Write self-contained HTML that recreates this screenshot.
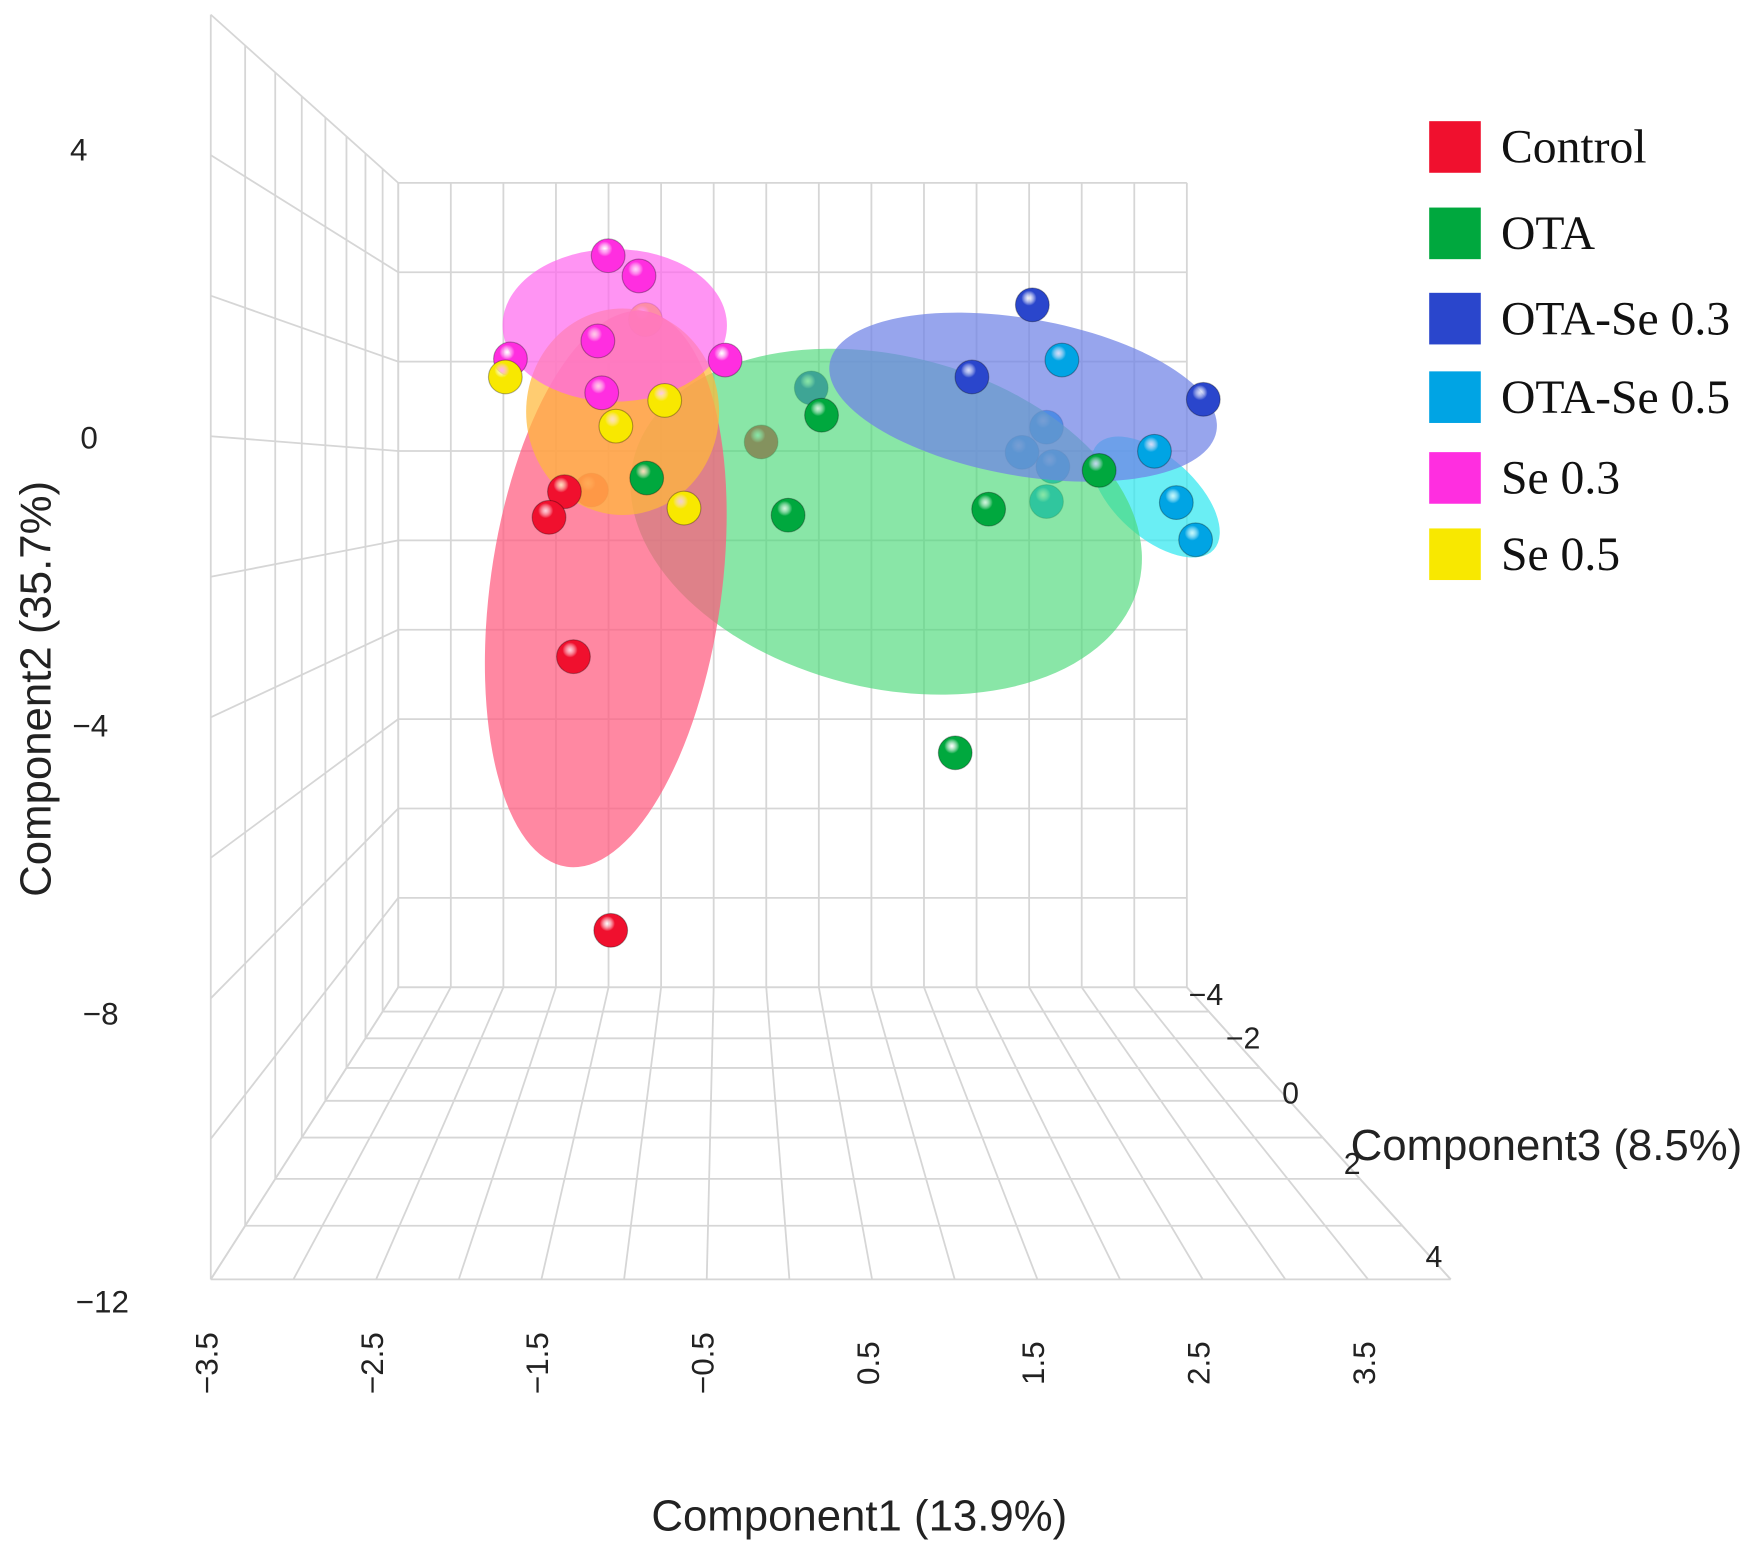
<!DOCTYPE html>
<html><head><meta charset="utf-8">
<style>
html,body{margin:0;padding:0;background:#fff;overflow:hidden;}
svg{display:block;}
text{font-family:"Liberation Sans",Arial,sans-serif;fill:#222;}
.leg{font-family:"Liberation Serif",serif;font-size:42.5px;fill:#111;}
</style></head>
<body>
<svg id="chart" width="1759" height="1555" viewBox="0 0 1568 1386" preserveAspectRatio="none" xmlns="http://www.w3.org/2000/svg">
<defs id="defs"></defs>
<g id="grid"></g>
<g id="behind"></g>
<g id="ells"></g>
<g id="front"></g>
<g id="ticks"></g>
<text x="766" y="1364" text-anchor="middle" font-size="39">Component1 (13.9%)</text>
<text transform="translate(45,614) rotate(-90)" text-anchor="middle" font-size="39">Component2 (35.7%)</text>
<text x="1204" y="1034" font-size="39">Component3 (8.5%)</text>
<g id="legend"></g>
</svg>
<script>
const groups = ["Control","OTA","OTA-Se 0.3","OTA-Se 0.5","Se 0.3","Se 0.5"];
const colors = ["#f0102e","#00a83e","#2a46cc","#00a4e4","#ff2ee0","#f8e800"];
const ctrlX = [-1.64,-1.76,-1.43,-1.57,-1.28,-0.11];
const ctrlY = [-0.85,-1.32,-0.82,-3.87,-8.88,0.06];
const ctrlBehind = [0,0,1,0,0,1];
const otaX = [-1.00,0.36,0.10,1.66,2.52,1.40];
const otaY = [-0.60,0.55,-1.28,-1.17,-0.46,-5.63];
const otaBehind = [0,0,0,0,0,0];
const se3X = [2.00,1.53,3.33,0.28];
const se3Y = [2.57,1.25,0.84,1.05];
const se3Behind = [0,0,0,1];
const se5X = [2.23,2.95,3.12,3.27,2.11,1.92,2.16,2.11];
const se5Y = [1.56,-0.11,-1.05,-1.73,0.33,-0.13,-0.39,-1.03];
const se5Behind = [0,0,0,0,1,1,1,1];
const s3X = [-1.30,-1.06,-1.38,-2.06,-1.35,-0.39];
const s3Y = [3.47,3.10,1.91,1.58,0.96,1.56];
const s3Behind = [0,0,0,0,0,0];
const s5X = [-2.10,-0.86,-1.24,-0.71,-1.01];
const s5Y = [1.25,0.82,0.35,-1.15,2.30];
const s5Behind = [0,0,0,0,1];
const gx=[ctrlX,otaX,se3X,se5X,s3X,s5X], gy=[ctrlY,otaY,se3Y,se5Y,s3Y,s5Y], gb=[ctrlBehind,otaBehind,se3Behind,se5Behind,s3Behind,s5Behind];
const xTicks=["-3.5","-2.5","-1.5","-0.5","0.5","1.5","2.5","3.5"];
const yTicks=["4","0","-4","-8","-12"];
const zTicks=["-4","-2","0","2","4"];

const NS="http://www.w3.org/2000/svg";
function sc(z){return 1/(0.818-0.0455*z);}
function P(x,y,z){const s=sc(z);const xb=355+(x+3.5)*93.73, yb=163+(6-y)*39.83;return [647+s*(xb-647),425+s*(yb-425),s];}
function el(tag,attrs,parent){const e=document.createElementNS(NS,tag);for(const k in attrs)e.setAttribute(k,attrs[k]);parent.appendChild(e);return e;}
const grid=document.getElementById('grid');
function line(a,b,name){const l=el('line',{x1:a[0],y1:a[1],x2:b[0],y2:b[1],stroke:'#d6d6d6','stroke-width':1.6},grid);

}
for(let x=-3.5;x<=4.001;x+=0.5){line(P(x,-12,-4),P(x,6,-4),'back-gridline-x');line(P(x,-12,-4),P(x,-12,4),'floor-gridline-x');}
for(let y=-12;y<=6;y+=2){line(P(-3.5,y,-4),P(4,y,-4),'back-gridline-y');line(P(-3.5,y,-4),P(-3.5,y,4),'side-gridline-y');}
for(let z=-4;z<=4;z+=1){line(P(-3.5,-12,z),P(-3.5,6,z),'side-gridline-z');line(P(-3.5,-12,z),P(4,-12,z),'floor-gridline-z');}
line(P(4,-12,-4),P(4,-12,4),'floor-edge-right');

const defs=document.getElementById('defs');
colors.forEach((c,i)=>{const g=el('radialGradient',{id:'g'+i,cx:'0.4',cy:'0.3',r:'0.75'},defs);
el('stop',{offset:'0','stop-color':'#ffffff','stop-opacity':'0.6'},g);
el('stop',{offset:'0.3','stop-color':c},g);el('stop',{offset:'1','stop-color':c},g);});

function drawPts(layer,flag){const L=document.getElementById(layer);
gx.forEach((xs,gi)=>{xs.forEach((x,j)=>{if(gb[gi][j]!==flag)return;const p=P(x,gy[gi][j],0);
const c=el('circle',{cx:p[0],cy:p[1],r:12.3*p[2],fill:'url(#g'+gi+')',stroke:'rgba(0,0,0,0.3)','stroke-width':1},L);

});});}
drawPts('behind',1);

const ells=document.getElementById('ells');
const ellData=[["ellipse-ota-se-0-5",1030,443,70,36,42,"#30e8f0",0.72],["ellipse-ota",790,465,232,148,14,"#4ad878",0.65],
["ellipse-control",540,525,103,250,8,"#ff5a7e",0.72],["ellipse-se-0-5",555,367,86,92,0,"#ffb83a",0.72],
["ellipse-se-0-3",548,290,100,68,0,"#ff66ee",0.7],["ellipse-ota-se-0-3",912,354,175,70,10,"#6f82e6",0.72]];
ellData.forEach(d=>{const e=el('ellipse',{cx:d[1],cy:d[2],rx:d[3],ry:d[4],transform:`rotate(${d[5]} ${d[1]} ${d[2]})`,fill:d[6],'fill-opacity':d[7]},ells);

});
drawPts('front',0);

const T=document.getElementById('ticks');
xTicks.forEach(t=>{const p=P(parseFloat(t),-12,4);const tx=p[0]-3,ty=1215;
const e=el('text',{transform:`translate(${tx+9},${ty}) rotate(-90)`,'text-anchor':'middle','font-size':28},T);e.textContent=t.replace('-','\u2212');

});
yTicks.forEach(t=>{const v=parseFloat(t);const yy=133+(4-v)/4*256.75+10;const end=78+(yy-143)/1027*37;
const e=el('text',{x:end,y:yy,'text-anchor':'end','font-size':28},T);e.textContent=t.replace('-','\u2212');

});
zTicks.forEach(t=>{const z=parseFloat(t);const p=P(4,-12,z);const dx=17-(z+4)*4,dy=7-(z+4)*3.4;
const e=el('text',{x:p[0]+dx,y:p[1]+dy+9,'text-anchor':'middle','font-size':27},T);e.textContent=t.replace('-','\u2212');

});

const Lg=document.getElementById('legend');
const legY=[131,208,284,354,426,494];
groups.forEach((g,i)=>{const r=el('rect',{x:1274,y:legY[i]-23,width:46,height:46,fill:colors[i]},Lg);


const t=el('text',{x:1338,y:legY[i]+14,class:'leg'},Lg);t.textContent=g;

});
</script>
</body></html>
